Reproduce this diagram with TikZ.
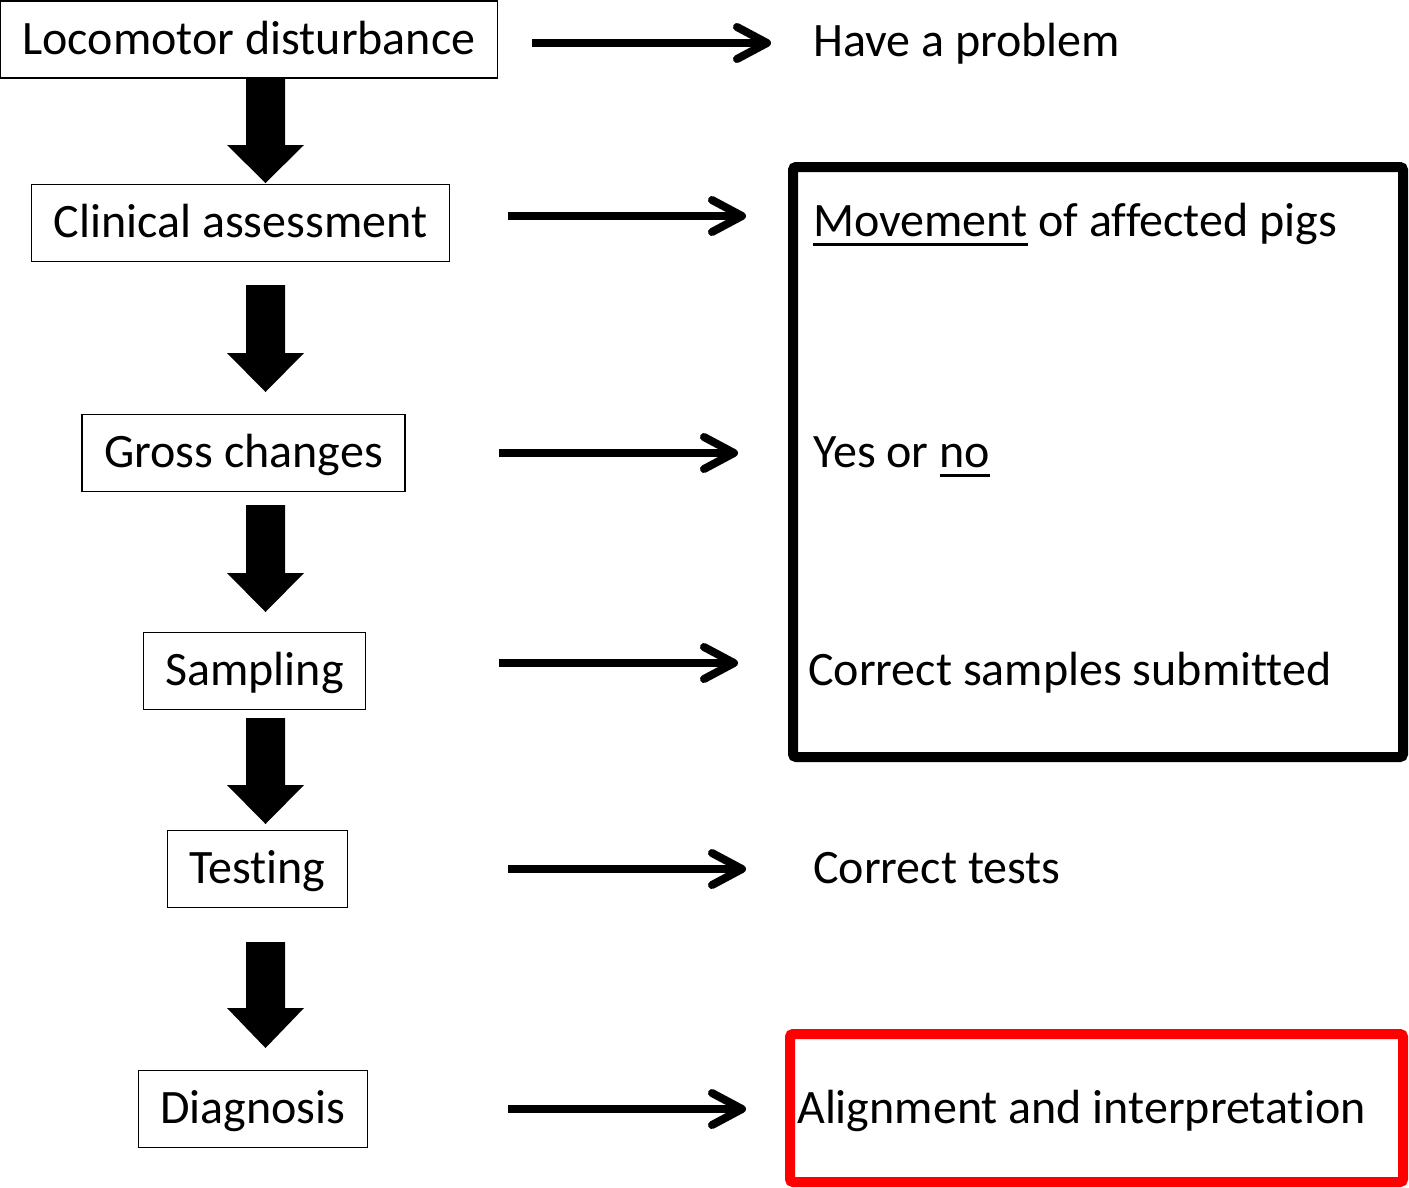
\documentclass[tikz,border=0pt]{standalone}
\usepackage{fontspec}
\setmainfont{Carlito}[Ligatures=NoCommon]
\usetikzlibrary{arrows.meta}

% underline with a thicker rule set a little below the baseline
\newcommand\undl[1]{\setbox0\hbox{#1}\rlap{\rule[-9pt]{\wd0}{3pt}}\box0\relax}

\tikzset{
  stepbox/.style={draw, line width=1.5pt, inner xsep=22pt, inner ysep=0pt,
    minimum height=77pt, text height=29pt, text depth=0pt,
    font=\fontsize{48}{56}\selectfont},
  note/.style={anchor=west, inner sep=0pt, text height=29pt, text depth=0pt,
    font=\fontsize{48}{56}\selectfont},
  rarrow/.style={line width=8pt,
    -{Straight Barb[length=30pt,width=32pt,round]}},
  bigarrow/.style={fill=black, draw=none},
  frame/.style={line width=10pt, rounded corners=3pt},
}

% block arrow pointing down: centre x, top, start of head, tip
\newcommand\downblock[4]{%
  \fill[bigarrow] (#1-19.5,#2) -- (#1+19.5,#2) -- (#1+19.5,#3) -- (#1+38.5,#3)
    -- (#1,#4) -- (#1-38.5,#3) -- (#1-19.5,#3) -- cycle;}

\begin{document}
\begin{tikzpicture}[x=1pt, y=-1pt]
\useasboundingbox (0,0) rectangle (1409,1187);

% process steps
\node[stepbox] (b1) at (249,39.5) {Locomotor disturbance};
\node[stepbox] (b2) at (240.5,223) {Clinical assessment};
\node[stepbox] (b3) at (243.5,453) {Gross changes};
\node[stepbox] (b4) at (254.5,671) {Sampling};
\node[stepbox] (b5) at (257.5,869) {Testing};
\node[stepbox] (b6) at (253,1109) {Diagnosis};

% block arrows between steps
\downblock{265.5}{78}{145}{183}
\downblock{265.5}{285}{353}{392}
\downblock{265.5}{505}{573}{612}
\downblock{265.5}{718}{785}{824}
\downblock{265.5}{942}{1008}{1048}

% outcomes
\node[note] (r1) at (813,42) {Have a problem};
\node[note] (r2) at (813,222) {\undl{Movement} of affected pigs};
\node[note] (r3) at (813,453) {Yes or \undl{no}};
\node[note] (r4) at (808,671) {Correct samples submitted};
\node[note] (r5) at (813,869) {Correct tests};
\node[note] (r6) at (797,1109) {Alignment and interpretation};

% arrow ends
\coordinate (s1) at (532,43);   \coordinate (e1) at (771,43);
\coordinate (s2) at (508,216);  \coordinate (e2) at (746,216);
\coordinate (s3) at (499,453);  \coordinate (e3) at (738,453);
\coordinate (s4) at (499,663);  \coordinate (e4) at (738,663);
\coordinate (s5) at (508,869);  \coordinate (e5) at (746,869);
\coordinate (s6) at (508,1109); \coordinate (e6) at (746,1109);

\foreach \i in {1,...,6} \draw[rarrow] (s\i) -- (e\i);

% grouping frames
\draw[frame] (793,167) rectangle (1403,757);
\draw[frame, draw={rgb,255:red,255;green,0;blue,0}] (790,1034) rectangle (1403,1182);
\end{tikzpicture}
\end{document}
